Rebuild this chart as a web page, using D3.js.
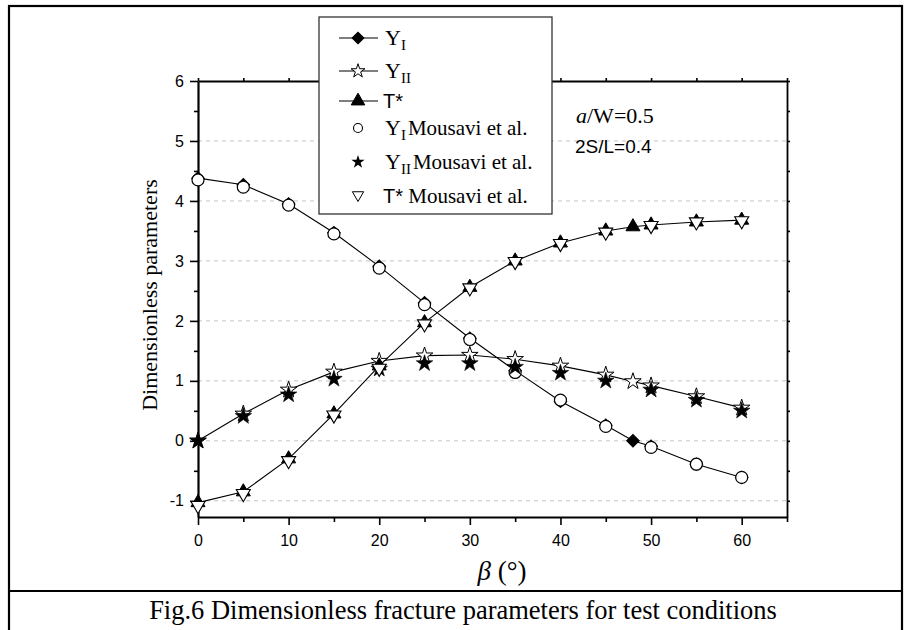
<!DOCTYPE html>
<html><head><meta charset="utf-8">
<script src="https://cdn.jsdelivr.net/npm/d3@7"></script>
<style>body{margin:0;background:#fff}svg{display:block}</style>
</head><body><svg id="c" width="904" height="630"></svg>
<script>
// ---- data ----
const betaFE  = [0,5,10,15,20,25,30,35,40,45,48,50,55,60];
const betaRef = [0,5,10,15,20,25,30,35,40,45,50,55,60];
const yI_FE   = [4.38,4.27,3.95,3.47,2.91,2.30,1.71,1.17,0.66,0.26,0.00,-0.09,-0.39,-0.61];
const yII_FE  = [0.00,0.45,0.85,1.15,1.33,1.42,1.43,1.36,1.25,1.10,0.99,0.92,0.74,0.55];
const tS_FE   = [-1.03,-0.85,-0.30,0.45,1.25,1.97,2.56,3.00,3.30,3.50,3.57,3.60,3.65,3.68];
const yI_Ref  = [4.35,4.23,3.93,3.45,2.88,2.27,1.69,1.14,0.68,0.24,-0.11,-0.39,-0.61];
const yII_Ref = [0.00,0.41,0.77,1.03,1.20,1.29,1.29,1.23,1.13,1.00,0.85,0.68,0.50];
const tS_Ref  = [-1.08,-0.88,-0.33,0.43,1.21,1.95,2.55,2.99,3.29,3.48,3.59,3.65,3.67];
const xTicks  = [0,10,20,30,40,50,60];
const yTicks  = [-1,0,1,2,3,4,5,6];

const svg = d3.select("#c");
const x = d3.scaleLinear().domain([0,65]).range([198,787]);
const y = d3.scaleLinear().domain([-1.27,6]).range([517,81]);
const serif = "'Liberation Serif','Times New Roman',serif";
const sans = "'Liberation Sans',Arial,sans-serif";

// outer frame
svg.append("rect").attr("x",9).attr("y",6).attr("width",893).attr("height",640)
  .attr("fill","none").attr("stroke","#000").attr("stroke-width",2.2);
svg.append("line").attr("x1",9).attr("x2",903).attr("y1",591).attr("y2",591)
  .attr("stroke","#000").attr("stroke-width",2.2);

// grid
svg.append("g").selectAll("line").data(d3.range(-1,6)).join("line")
  .attr("x1",x(0)).attr("x2",x(65)).attr("y1",d=>y(d)).attr("y2",d=>y(d))
  .attr("stroke","#c4c4c4").attr("stroke-width",1).attr("stroke-dasharray","4,4");

// axes
function styleAxis(g,w){ g.select(".domain").attr("stroke","#000").attr("stroke-width",w);
  g.selectAll(".tick line").attr("stroke","#000").attr("stroke-width",1.6);
  g.selectAll("text").attr("font-family",sans).attr("font-size",16).attr("fill","#000"); }
const gB = svg.append("g").attr("transform",`translate(0,${y(-1.27)})`)
  .call(d3.axisBottom(x).tickValues(xTicks).tickSize(8).tickSizeOuter(0).tickPadding(10).tickFormat(d3.format("d")));
styleAxis(gB,2.2);
svg.append("g").attr("transform",`translate(0,${y(-1.27)})`)
  .call(d3.axisBottom(x).tickValues([5,15,25,35,45,55,65]).tickSize(5).tickSizeOuter(0).tickFormat(""))
  .call(g=>{g.select(".domain").remove(); g.selectAll("line").attr("stroke","#000").attr("stroke-width",1.6);});
const gL = svg.append("g").attr("transform",`translate(${x(0)},0)`)
  .call(d3.axisLeft(y).tickValues(yTicks).tickSize(8).tickSizeOuter(0).tickPadding(6).tickFormat(d=>d<0?"-"+Math.abs(d):d));
styleAxis(gL,2.2);
svg.append("g").attr("transform",`translate(${x(0)},0)`)
  .call(d3.axisLeft(y).tickValues(d3.range(-0.5,6,1)).tickSize(4).tickSizeOuter(0).tickFormat(""))
  .call(g=>{g.select(".domain").remove(); g.selectAll("line").attr("stroke","#000").attr("stroke-width",1.6);});
const gT = svg.append("g").attr("transform",`translate(0,${y(6)})`)
  .call(d3.axisTop(x).tickValues(d3.range(0,66,5)).tickSize(3).tickSizeOuter(0).tickFormat(""));
styleAxis(gT,1.8);
const gR = svg.append("g").attr("transform",`translate(${x(65)},0)`)
  .call(d3.axisRight(y).tickValues(d3.range(-1,6.01,0.5)).tickSize(3).tickSizeOuter(0).tickFormat(""));
styleAxis(gR,1.8);

// axis titles
svg.append("text").attr("transform","translate(157,295) rotate(-90)").attr("text-anchor","middle")
  .attr("font-family",serif).attr("font-size",22).text("Dimensionless parameters");
const xt = svg.append("text").attr("x",502).attr("y",580).attr("text-anchor","middle")
  .attr("font-family",serif).attr("font-size",27);
xt.append("tspan").attr("font-style","italic").text("β");
xt.append("tspan").text(" (°)");

// annotations
const an = svg.append("text").attr("x",576).attr("y",123).attr("font-family",serif).attr("font-size",22);
an.append("tspan").attr("font-style","italic").text("a");
an.append("tspan").text("/W=0.5");
svg.append("text").attr("x",575).attr("y",153).attr("font-family",sans).attr("font-size",19).text("2S/L=0.4");

// symbols
const sym = {
  diamond: (s)=>d3.symbol().type(d3.symbolSquare).size(s)(),
  star: (s)=>d3.symbol().type(d3.symbolStar).size(s)(),
  tri: (s)=>d3.symbol().type(d3.symbolTriangle).size(s)()
};
const line = d3.line().x(d=>x(d[0])).y(d=>y(d[1]));
const feSeries = [
  {vals:yI_FE, path:sym.diamond(80), rot:45, fill:"#000"},
  {vals:yII_FE, path:sym.star(85), rot:0, fill:"#fff"},
  {vals:tS_FE, path:sym.tri(85), rot:0, fill:"#000"}
];
feSeries.forEach(s=>{
  const pts = betaFE.map((b,i)=>[b,s.vals[i]]);
  svg.append("path").attr("d",line(pts)).attr("fill","none").attr("stroke","#000").attr("stroke-width",1.1);
});
feSeries.forEach(s=>{
  svg.append("g").selectAll("path").data(betaFE.map((b,i)=>[b,s.vals[i]])).join("path")
    .attr("d",s.path).attr("transform",d=>`translate(${x(d[0])},${y(d[1])}) rotate(${s.rot})`)
    .attr("fill",s.fill).attr("stroke","#000").attr("stroke-width",1);
});
// reference markers
svg.append("g").selectAll("circle").data(betaRef.map((b,i)=>[b,yI_Ref[i]])).join("circle")
  .attr("cx",d=>x(d[0])).attr("cy",d=>y(d[1])).attr("r",6)
  .attr("fill","#fff").attr("stroke","#000").attr("stroke-width",1.2);
svg.append("g").selectAll("path").data(betaRef.map((b,i)=>[b,yII_Ref[i]])).join("path")
  .attr("d",sym.star(85)).attr("transform",d=>`translate(${x(d[0])},${y(d[1])})`)
  .attr("fill","#000").attr("stroke","#000").attr("stroke-width",0.6);
svg.append("g").selectAll("path").data(betaRef.map((b,i)=>[b,tS_Ref[i]])).join("path")
  .attr("d",sym.tri(85)).attr("transform",d=>`translate(${x(d[0])},${y(d[1])}) rotate(180)`)
  .attr("fill","#fff").attr("stroke","#000").attr("stroke-width",1.1);

// legend
const lg = svg.append("g");
lg.append("rect").attr("x",319).attr("y",17).attr("width",233).attr("height",197)
  .attr("fill","#fff").attr("stroke","#333").attr("stroke-width",1.3);
const rows = [
  {y:38, kind:"line", path:sym.diamond(70), rot:45, fill:"#000", main:"Y", sub:"I", font:serif, rest:""},
  {y:71, kind:"line", path:sym.star(60), rot:0, fill:"#fff", main:"Y", sub:"II", font:serif, rest:""},
  {y:101, kind:"line", path:sym.tri(80), rot:0, fill:"#000", main:"T*", sub:"", font:sans, rest:""},
  {y:128, kind:"circle", main:"Y", sub:"I", font:serif, rest:"Mousavi et al."},
  {y:162, kind:"fstar", path:sym.star(55), main:"Y", sub:"II", font:serif, rest:"Mousavi et al."},
  {y:196, kind:"dtri", path:sym.tri(55), main:"T*", sub:"", font:sans, rest:" Mousavi et al."}
];
rows.forEach(r=>{
  const cx = 358;
  if(r.kind==="line"){
    lg.append("line").attr("x1",339).attr("x2",378).attr("y1",r.y).attr("y2",r.y).attr("stroke","#000").attr("stroke-width",1.1);
    lg.append("path").attr("d",r.path).attr("transform",`translate(${cx},${r.y}) rotate(${r.rot})`)
      .attr("fill",r.fill).attr("stroke","#000").attr("stroke-width",1);
  } else if(r.kind==="circle"){
    lg.append("circle").attr("cx",cx).attr("cy",r.y).attr("r",4.5).attr("fill","#fff").attr("stroke","#000").attr("stroke-width",1.1);
  } else if(r.kind==="fstar"){
    lg.append("path").attr("d",r.path).attr("transform",`translate(${cx},${r.y})`).attr("fill","#000");
  } else {
    lg.append("path").attr("d",r.path).attr("transform",`translate(${cx},${r.y-1}) rotate(180)`)
      .attr("fill","#fff").attr("stroke","#000").attr("stroke-width",1);
  }
  const t = lg.append("text").attr("x",r.font===sans?383:385).attr("y",r.y+7).attr("font-size",21);
  t.append("tspan").attr("font-family",r.font).attr("font-size",r.font===sans?20:22).text(r.main);
  if(r.sub) t.append("tspan").attr("font-family",serif).attr("font-size",15).attr("dy",5).text(r.sub);
  if(r.rest) t.append("tspan").attr("font-family",serif).attr("font-size",21).attr("dy",r.sub?-5:0).attr("dx",r.sub?2:0).text(r.rest);
});

// caption
svg.append("text").attr("x",463).attr("y",619).attr("text-anchor","middle")
  .attr("font-family",serif).attr("font-size",26.5).text("Fig.6 Dimensionless fracture parameters for test conditions");
</script></body></html>
